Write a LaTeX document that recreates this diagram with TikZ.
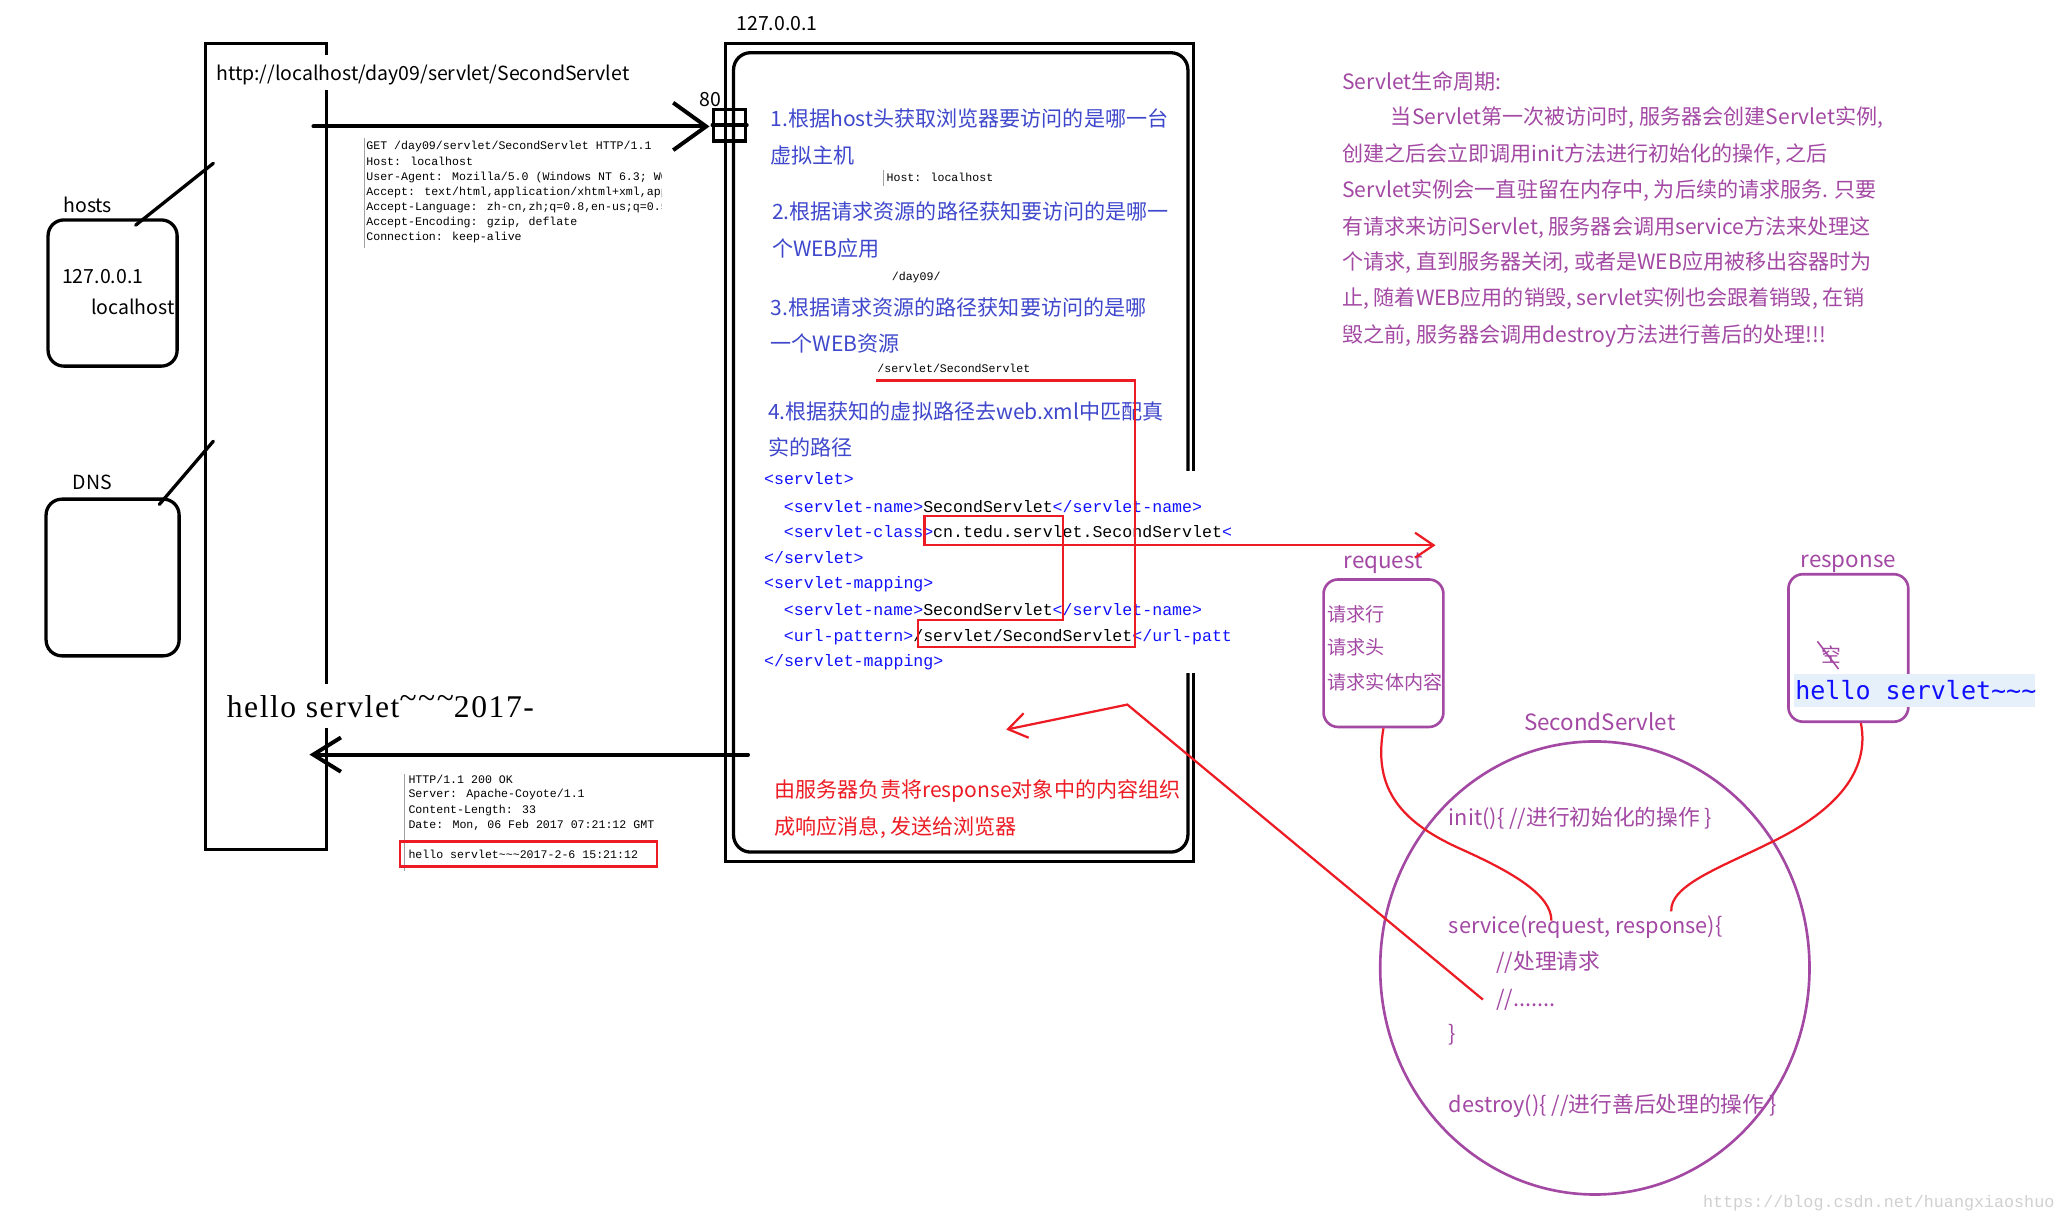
\documentclass[tikz,border=0pt]{standalone}
\usepackage{fontspec}
\setmainfont{Noto Sans CJK SC}
\newfontfamily\cmono{Liberation Mono}
\newfontfamily\cserif[LetterSpace=5]{Liberation Serif}
\newfontfamily\dmono{DejaVu Sans Mono}
\usetikzlibrary{arrows.meta,shapes.geometric}
\definecolor{pindigo}{HTML}{3F48CC}
\definecolor{pred}{HTML}{ED1C24}
\definecolor{ppurple}{HTML}{A349A4}
\definecolor{xmlblue}{HTML}{1010FF}
\definecolor{hlbg}{HTML}{E5F0FB}
\definecolor{wmgray}{HTML}{D0D0D0}
\definecolor{hdrgray}{HTML}{A0A0A0}
\newcommand\myfs[1]{\fontsize{#1}{#1}\selectfont}
\newcommand\tld{\textasciitilde}
\newcommand\xt[1]{\textcolor{xmlblue}{#1}}
\begin{document}
\begin{tikzpicture}[x=1pt,y=-1pt,
  blk/.style={line width=2.5pt, black, line cap=round},
  bx/.style={draw, line width=2.5pt, inner sep=0pt},
  pbx/.style={draw=ppurple, line width=2pt, inner sep=0pt, rounded corners=11pt},
  redln/.style={draw=pred, line width=1.7pt},
  lbl/.style={inner sep=0pt, anchor=base west},
  t16/.style={lbl, font=\myfs{16}},
  tblk/.style={lbl, font=\myfs{14.8}},
  t17/.style={lbl, font=\myfs{17}},
  hdr/.style={lbl, font=\cmono\myfs{8.8}},
  xml/.style={lbl, font=\cmono\myfs{12.6}},
  blue16/.style={t16, text=pindigo},
  purp16/.style={t16, text=ppurple},
  red16/.style={t16, text=pred},
  barbbig/.style={-{Straight Barb[length=25pt,width=36pt]}},
  barbmid/.style={-{Straight Barb[length=21pt,width=26pt]}},
  barbred/.style={-{Straight Barb[length=14pt,width=19pt]}}]
\useasboundingbox (0,0) rectangle (1568,927);
\fill[white] (0,0) rectangle (1568,927);

% ---------- browser side ----------
\node[bx, minimum width=92pt, minimum height=612pt] (browser) at (202,339) {};
\node[bx, rounded corners=12pt, minimum width=98pt, minimum height=111pt] (hosts) at (85.5,222.5) {};
\node[bx, rounded corners=12pt, minimum width=101pt, minimum height=119pt] (dns) at (85.5,438.5) {};
\coordinate (hostsA) at (103,171); \coordinate (hostsB) at (162,124);
\coordinate (dnsA) at (121,383); \coordinate (dnsB) at (162,335);
\draw[blk] (hostsA) -- (hostsB);
\draw[blk] (dnsA) -- (dnsB);

% ---------- server boxes ----------
\node[bx, minimum width=355pt, minimum height=621pt] (srvout) at (728.5,343.5) {};
\node[bx, rounded corners=13pt, minimum width=345pt, minimum height=607pt] (srvin) at (729.5,343.5) {};
\node[bx, minimum size=24pt] (port) at (554,95) {};
\draw[blk] (port.west) -- (port.east);

% gaps where texts lie over the lines
\fill[white] (240,42) rectangle (256,68);
\fill[white] (240,519) rectangle (256,553);
\fill[white] (896,358) rectangle (912,511);

% ---------- arrows browser <-> server ----------
\coordinate (reqfrom) at (238,96);
\draw[blk, line width=3pt, barbbig] (reqfrom) -- ([xshift=-2pt,yshift=-1pt]port.west);
\coordinate (respfrom) at (568,573);
\coordinate (respto) at (235,573);
\draw[blk, line width=3pt, barbmid] (respfrom) -- (respto);

% ---------- black labels ----------
\node[tblk] (hostslbl) at (48,161) {hosts};
\node[tblk] (ip1) at (47,215) {127.0.0.1};
\node[tblk] (lh) at (69,239) {localhost};
\node[tblk] (dnslbl) at (55,372) {DNS};
\node[tblk] (url) at (164,61) {http://localhost/day09/servlet/SecondServlet};
\node[tblk] (p80) at (531,80.5) {80};
\node[tblk] (ip2) at (559,23) {127.0.0.1};

% ---------- request headers ----------
\draw[hdrgray, line width=0.8pt] (277,105) -- (277,188);
\begin{scope}
\clip (270,95) rectangle (502,195);
\node[hdr] (rq1) at (278,113.8) {GET /day09/servlet/SecondServlet HTTP/1.1};
\node[hdr] (rq2) at (278,125.3) {Host: localhost};
\node[hdr] (rq3) at (278,136.8) {User-Agent: Mozilla/5.0 (Windows NT 6.3; WOW64)};
\node[hdr] (rq4) at (278,148.3) {Accept: text/html,application/xhtml+xml,application};
\node[hdr] (rq5) at (278,159.8) {Accept-Language: zh-cn,zh;q=0.8,en-us;q=0.5};
\node[hdr] (rq6) at (278,171.3) {Accept-Encoding: gzip, deflate};
\node[hdr] (rq7) at (278,182.8) {Connection: keep-alive};
\end{scope}

% ---------- response headers ----------
\draw[hdrgray, line width=0.8pt] (307,588) -- (307,661);
\node[hdr] (rs1) at (310,594.8) {HTTP/1.1 200 OK};
\node[hdr] (rs2) at (310,605.8) {Server: Apache-Coyote/1.1};
\node[hdr] (rs3) at (310,617.8) {Content-Length: 33};
\node[hdr] (rs4) at (310,628.8) {Date: Mon, 06 Feb 2017 07:21:12 GMT};
\node[hdr] (rs5) at (310,651.8) {hello servlet\tld\tld\tld2017-2-6 15:21:12};
\node[draw=pred, line width=1.7pt, inner sep=0pt, minimum width=195pt, minimum height=19pt] (hlrect) at (401.5,648.5) {};

\node[lbl, font=\cserif\myfs{24}] (hello) at (172,545) {hello servlet\raisebox{0.3em}{\tld\tld\tld}2017-};

% ---------- server texts ----------
\node[blue16] (s1a) at (585,95.8) {1.根据host头获取浏览器要访问的是哪一台};
\node[blue16] (s1b) at (585,123.8) {虚拟主机};
\draw[hdrgray, line width=0.8pt] (671,129) -- (671,141);
\node[hdr] (hhost) at (673,137.8) {Host: localhost};
\node[blue16] (s2a) at (586,166.8) {2.根据请求资源的路径获知要访问的是哪一};
\node[blue16] (s2b) at (586,194.8) {个WEB应用};
\node[hdr] (hday) at (677,212.8) {/day09/};
\node[blue16] (s3a) at (585,239.8) {3.根据请求资源的路径获知要访问的是哪};
\node[blue16] (s3b) at (585,266.8) {一个WEB资源};
\node[hdr] (hsrv) at (666,282.8) {/servlet/SecondServlet};
\node[blue16] (s4a) at (583,318.8) {4.根据获知的虚拟路径去web.xml中匹配真};
\node[blue16] (s4b) at (583,345.8) {实的路径};

\node[xml] (x1) at (580,367.8) {\xt{<servlet>}};
\node[xml] (x2) at (595,388.8) {\xt{<servlet-name>}SecondServlet\xt{</servlet-name>}};
\node[xml] (x3) at (595,408.3) {\xt{<servlet-class>}cn.tedu.servlet.SecondServlet\xt{<}};
\node[xml] (x4) at (580,427.8) {\xt{</servlet>}};
\node[xml] (x5) at (580,446.8) {\xt{<servlet-mapping>}};
\node[xml] (x6) at (595,467.3) {\xt{<servlet-name>}SecondServlet\xt{</servlet-name>}};
\node[xml] (x7) at (595,486.8) {\xt{<url-pattern>}/servlet/SecondServlet\xt{</url-patt}};
\node[xml] (x8) at (580,506.3) {\xt{</servlet-mapping>}};

\node[red16] (r1) at (588,605.8) {由服务器负责将response对象中的内容组织};
\node[red16] (r2) at (588,633.8) {成响应消息, 发送给浏览器};

% ---------- right description ----------
\node[purp16] (d0) at (1019,67.8) {Servlet生命周期:};
\node[purp16] (d1) at (1056,94.8) {当Servlet第一次被访问时, 服务器会创建Servlet实例,};
\node[purp16] (d2) at (1019,122.8) {创建之后会立即调用init方法进行初始化的操作, 之后};
\node[purp16] (d3) at (1019,149.8) {Servlet实例会一直驻留在内存中, 为后续的请求服务. 只要};
\node[purp16] (d4) at (1019,177.8) {有请求来访问Servlet, 服务器会调用service方法来处理这};
\node[purp16] (d5) at (1019,204.8) {个请求, 直到服务器关闭, 或者是WEB应用被移出容器时为};
\node[purp16] (d6) at (1019,231.8) {止, 随着WEB应用的销毁, servlet实例也会跟着销毁, 在销};
\node[purp16] (d7) at (1019,259.8) {毁之前, 服务器会调用destroy方法进行善后的处理!!!};

% ---------- request / response / servlet ----------
\node[pbx, minimum width=91pt, minimum height=112pt] (reqbox) at (1050.5,496) {};
\node[t17, text=ppurple] (reqlbl) at (1020,432) {request};
\node[lbl, font=\myfs{14.5}, text=ppurple] (q1) at (1008,472.2) {请求行};
\node[lbl, font=\myfs{14.5}, text=ppurple] (q2) at (1008,497.2) {请求头};
\node[lbl, font=\myfs{14.5}, text=ppurple] (q3) at (1008,523.2) {请求实体内容};

\node[pbx, minimum width=91pt, minimum height=112pt] (respbox) at (1403.5,492) {};
\node[t17, text=ppurple] (resplbl) at (1367,431) {response};
\node[lbl, font=\myfs{15}, text=ppurple] (kong) at (1383,503) {空};
\coordinate (kA) at (1380,487); \coordinate (kB) at (1396,508);
\draw[ppurple, line width=1.2pt] (kA) -- (kB);
\fill[hlbg] (1362,512) rectangle (1545,537);
\node[lbl, font=\dmono\myfs{19}, text=xmlblue] (hs2) at (1363,531.5) {hello servlet\tld\tld\tld};

\node[t17, text=ppurple] (sslbl) at (1157,554.5) {SecondServlet};
\node[draw=ppurple, line width=2pt, ellipse, inner sep=0pt, minimum width=326pt, minimum height=344pt] (circ) at (1211,735) {};
\node[lbl, font=\myfs{16.5}, text=ppurple] (c1) at (1100,627) {init()\{ //进行初始化的操作 \}};
\node[lbl, font=\myfs{16.5}, text=ppurple] (c2) at (1100,709) {service(request, response)\{};
\node[lbl, font=\myfs{16.5}, text=ppurple] (c3) at (1136,736) {//处理请求};
\node[lbl, font=\myfs{16.5}, text=ppurple] (c4) at (1136,764) {//.......};
\node[lbl, font=\myfs{16.5}, text=ppurple] (c5) at (1100,791) {\}};
\node[lbl, font=\myfs{16.5}, text=ppurple] (c6) at (1100,845) {destroy()\{ //进行善后处理的操作 \}};

% ---------- red connectors ----------
\coordinate (xmlstart) at (665,289);
\coordinate (reqtip) at (1090,414);
\draw[redln, barbred, line join=miter] (xmlstart) -- (862,289) -- (862,491) -- (697,491) -- (697,471)
  -- (807,471) -- (807,392) -- (702,392) -- (702,414) -- (reqtip);
\coordinate (dotsend) at (1126,759);
\coordinate (bend) at (856,535);
\coordinate (srvtip) at (764,554);
\draw[redln, barbred] (dotsend) -- (bend) -- (srvtip);
\coordinate (reqword) at (1178,699);
\coordinate (respword) at (1269,692);
\coordinate (respbot) at (1413,549);
\draw[redln] (reqbox.south) .. controls (1042,600) and (1065,625) .. (1110,645)
  .. controls (1150,663) and (1178,680) .. (reqword);
\draw[redln] (respbot) .. controls (1420,585) and (1395,615) .. (1346,639)
  .. controls (1306,659) and (1268,672) .. (respword);

\node[lbl, font=\cmono\myfs{12.7}, text=wmgray] (wm) at (1293,917) {https://blog.csdn.net/huangxiaoshuo};
\end{tikzpicture}
\end{document}
